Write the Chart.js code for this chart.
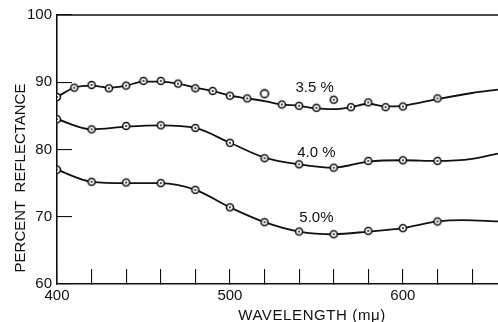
<!DOCTYPE html>
<html>
<head>
<meta charset="utf-8">
<script src="https://cdn.jsdelivr.net/npm/chart.js@4/dist/chart.umd.min.js"></script>
<style>
  html, body { margin: 0; padding: 0; background: #fff; }
  canvas { display: block; }
</style>
</head>
<body>
<canvas id="refl" width="498" height="322"></canvas>
<script>
// measured points (wavelength in m\u03bc, percent reflectance)
const wl35 = [400, 410, 420, 430, 440, 450, 460, 470, 480, 490, 500, 510, 530, 540, 550, 570, 580, 590, 600, 620];
const refl35 = [87.8, 89.2, 89.6, 89.1, 89.5, 90.2, 90.2, 89.8, 89.1, 88.7, 88.0, 87.6, 86.7, 86.5, 86.2, 86.3, 87.0, 86.3, 86.4, 87.6];
const wl35Off = [520, 560];
const refl35Off = [88.3, 87.4];

const wl40 = [400, 420, 440, 460, 480, 500, 520, 540, 560, 580, 600, 620];
const refl40 = [84.5, 83.0, 83.5, 83.6, 83.2, 81.0, 78.7, 77.8, 77.3, 78.3, 78.4, 78.3];

const wl50 = [400, 420, 440, 460, 480, 500, 520, 540, 560, 580, 600, 620];
const refl50 = [77.0, 75.2, 75.1, 75.0, 74.0, 71.4, 69.2, 67.8, 67.4, 67.9, 68.3, 69.3];

// hand-drawn smoothing curves through the points
const curveWl35 = [400, 410, 420, 430, 440, 450, 460, 470, 480, 490, 500, 510, 520, 530, 540, 550, 560, 570, 580, 590, 600, 620, 640, 655];
const curve35 = [87.8, 89.2, 89.5, 89.2, 89.5, 90.1, 90.1, 89.8, 89.2, 88.7, 88.0, 87.6, 87.2, 86.7, 86.5, 86.1, 86.0, 86.3, 86.8, 86.4, 86.5, 87.5, 88.4, 88.9];
const curveWl40 = [400, 420, 440, 460, 480, 500, 520, 540, 560, 580, 600, 620, 640, 655];
const curve40 = [84.5, 83.0, 83.4, 83.6, 83.2, 81.0, 78.8, 77.8, 77.3, 78.2, 78.4, 78.3, 78.6, 79.4];
const curveWl50 = [400, 420, 440, 460, 480, 500, 520, 540, 560, 580, 600, 620, 635, 655];
const curve50 = [77.0, 75.2, 75.0, 75.0, 74.0, 71.4, 69.2, 67.8, 67.4, 67.8, 68.3, 69.3, 69.5, 69.3];

// curve labels
const labelText = ['3.5 %', '4.0 %', '5.0%'];
const labelWl = [549, 550, 550];
const labelRefl = [89.1, 79.5, 69.9];

const xTickValues = [400, 420, 440, 460, 480, 500, 520, 540, 560, 580, 600, 620, 640];
const yTickValues = [60, 70, 80, 90, 100];

const INK = '#111';
const FONT = '"Liberation Sans", Arial, sans-serif';

function ring(withDot, r) {
  const c = document.createElement('canvas');
  c.width = 12; c.height = 12;
  const g = c.getContext('2d');
  g.beginPath();
  g.arc(6, 6, r, 0, Math.PI * 2);
  g.fillStyle = '#fff';
  g.fill();
  g.lineWidth = 1.6;
  g.strokeStyle = INK;
  g.stroke();
  if (withDot) {
    g.beginPath();
    g.arc(6, 6, 1.0, 0, Math.PI * 2);
    g.fillStyle = INK;
    g.fill();
  }
  return c;
}
const dotRing = ring(true, 3.5);
const openRing = ring(false, 3.9);

const pts = (xs, ys) => xs.map((x, i) => ({ x: x, y: ys[i] }));

function markers(xs, ys, style) {
  return {
    type: 'scatter',
    data: pts(xs, ys),
    pointStyle: style,
    pointRadius: 6,
    order: 0
  };
}

function curve(xs, ys) {
  return {
    type: 'line',
    data: pts(xs, ys),
    borderColor: INK,
    borderWidth: 1.8,
    pointRadius: 0,
    cubicInterpolationMode: 'monotone',
    fill: false,
    order: 1
  };
}

// top frame line, axis titles and curve labels
const decorations = {
  id: 'decorations',
  afterDraw(chart) {
    const { ctx, chartArea, scales } = chart;
    ctx.save();
    ctx.strokeStyle = INK;
    ctx.lineWidth = 1.6;
    ctx.beginPath();
    ctx.moveTo(chartArea.left, chartArea.top);
    ctx.lineTo(chartArea.right, chartArea.top);
    ctx.stroke();

    ctx.fillStyle = INK;
    ctx.font = '15px ' + FONT;
    ctx.textAlign = 'center';
    ctx.textBaseline = 'middle';
    labelText.forEach((t, i) => {
      ctx.fillText(t, scales.x.getPixelForValue(labelWl[i]), scales.y.getPixelForValue(labelRefl[i]));
    });

    ctx.letterSpacing = '0.6px';
    ctx.textBaseline = 'alphabetic';
    ctx.fillText('WAVELENGTH (m\u03bc)', 312, 320);

    ctx.translate(25, 178);
    ctx.rotate(-Math.PI / 2);
    ctx.letterSpacing = '0px';
    ctx.fillText('PERCENT  REFLECTANCE', 0, 0);
    ctx.restore();
  }
};

// keep the plot frame fixed: no extra room for edge labels
function noEdgePadding(s) {
  s.paddingLeft = 0;
  s.paddingRight = 0;
  s.paddingTop = 0;
  s.paddingBottom = 0;
}

new Chart(document.getElementById('refl'), {
  data: {
    datasets: [
      markers(wl35, refl35, dotRing),
      { ...markers(wl35Off, refl35Off, dotRing), pointStyle: ctx => ctx.dataIndex === 0 ? openRing : dotRing },
      markers(wl40, refl40, dotRing),
      markers(wl50, refl50, dotRing),
      curve(curveWl35, curve35),
      curve(curveWl40, curve40),
      curve(curveWl50, curve50)
    ]
  },
  options: {
    responsive: false,
    devicePixelRatio: 1,
    animation: false,
    layout: { autoPadding: false, padding: { top: 15, left: 0, right: 0, bottom: 0 } },
    plugins: { legend: { display: false }, tooltip: { enabled: false } },
    scales: {
      x: {
        type: 'linear',
        min: 400,
        max: 655,
        afterBuildTicks: s => { s.ticks = xTickValues.map(v => ({ value: v })); },
        afterFit: s => { s.height = 38; noEdgePadding(s); },
        border: { display: true, color: INK, width: 1.6 },
        grid: { drawOnChartArea: false, tickLength: -15, color: INK, lineWidth: 1.1 },
        ticks: {
          autoSkip: false,
          maxRotation: 0,
          padding: 18,
          color: INK,
          font: { family: FONT, size: 15 },
          callback: v => (v % 100 === 0 ? String(v) : '')
        }
      },
      y: {
        min: 60,
        max: 100,
        afterBuildTicks: s => { s.ticks = yTickValues.map(v => ({ value: v })); },
        afterFit: s => { s.width = 57; noEdgePadding(s); },
        border: { display: true, color: INK, width: 1.6 },
        grid: { drawOnChartArea: false, tickLength: -15, color: INK, lineWidth: 1.1 },
        ticks: {
          padding: 20,
          color: INK,
          font: { family: FONT, size: 15 }
        }
      }
    }
  },
  plugins: [decorations]
});
</script>
</body>
</html>
